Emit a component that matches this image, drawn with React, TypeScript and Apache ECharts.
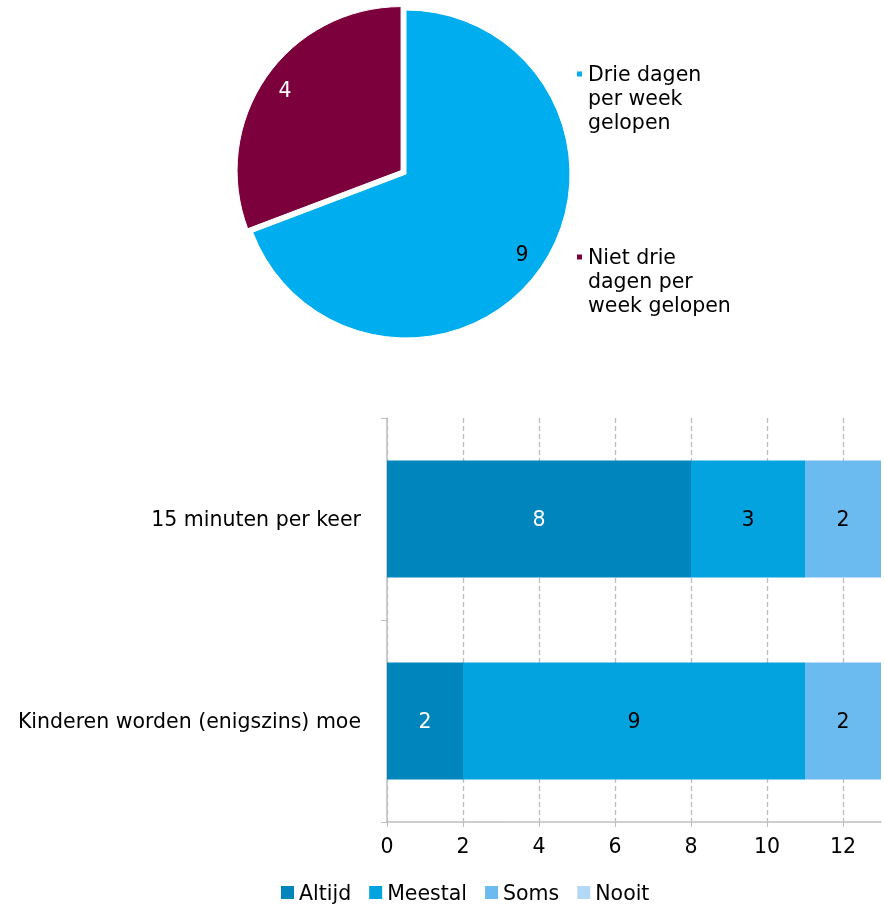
import React, { useEffect, useRef } from "react";
import * as echarts from "echarts";

const pieNames = ["Drie dagen per week gelopen", "Niet drie dagen per week gelopen"];
const pieValues = [9, 4];
const pieLegendText = ["Drie dagen\nper week\ngelopen", "Niet drie\ndagen per\nweek gelopen"];

const barCategories = ["15 minuten per keer", "Kinderen worden (enigszins) moe"];
const seriesNames = ["Altijd", "Meestal", "Soms", "Nooit"];
const altijd = [8, 2];
const meestal = [3, 9];
const soms = [2, 2];
const nooit = [0, 0];

const FONT = "DejaVu Sans";
const FS = 20.5;

export default function App() {
  const ref = useRef<HTMLDivElement>(null);
  useEffect(() => {
    const chart = echarts.init(ref.current!, null, { renderer: "svg" });
    const pieColors = ["#00AEEF", "#7B003C"];
    const barColors = ["#0086BC", "#03A3E0", "#6CBBF0", "#B3D9F5"];
    const labelColors = ["#ffffff", "#000000", "#000000", "#000000"];
    const barData = [altijd, meestal, soms, nooit];
    const lh = 24;
    const pieData = pieNames.map((n, i) => ({
      name: n,
      value: pieValues[i],
      selected: i === 1,
      itemStyle: { color: pieColors[i] },
    }));
    chart.setOption({
      animation: false,
      textStyle: { fontFamily: FONT },
      legend: [
        {
          data: pieNames,
          orient: "vertical",
          left: 570,
          top: 9,
          itemWidth: 7,
          itemHeight: 7,
          itemGap: 63,
          icon: "rect",
          formatter: (name: string) => "\n\n" + pieLegendText[pieNames.indexOf(name)],
          textStyle: {
            fontFamily: FONT,
            fontSize: FS,
            color: "#000",
            lineHeight: lh,
          },
        },
        {
          data: seriesNames,
          bottom: 2,
          left: 276,
          itemWidth: 13,
          itemHeight: 13,
          itemGap: 18,
          icon: "rect",
          textStyle: { fontFamily: FONT, fontSize: FS, color: "#000" },
        },
      ],
      grid: { left: 387, right: 3, top: 418, bottom: 88 },
      xAxis: {
        type: "value",
        min: 0,
        max: 13,
        interval: 2,
        axisLine: { show: true, lineStyle: { color: "#BFBFBF", width: 1.5 } },
        axisTick: { show: true, length: 5, lineStyle: { color: "#BFBFBF" } },
        axisLabel: {
          fontFamily: FONT,
          fontSize: FS,
          color: "#000",
          margin: 13,
          showMaxLabel: false,
        },
        splitLine: {
          show: true,
          showMaxLine: false,
          lineStyle: { color: "#BDBDBD", width: 1.3, type: [5, 3] },
        },
      },
      yAxis: {
        type: "category",
        data: barCategories,
        inverse: true,
        axisLine: { show: true, lineStyle: { color: "#BFBFBF", width: 1.5 } },
        axisTick: { show: true, length: 6, lineStyle: { color: "#BFBFBF" } },
        axisLabel: { fontFamily: FONT, fontSize: FS, color: "#000", margin: 26 },
      },
      series: [
        {
          type: "pie",
          center: [406, 174],
          radius: 164,
          startAngle: 90,
          clockwise: true,
          selectedMode: "single",
          selectedOffset: 6,
          label: { show: false },
          labelLine: { show: false },
          itemStyle: { borderColor: "#fff", borderWidth: 1 },
          emphasis: { disabled: true },
          data: pieData,
        },
        {
          type: "pie",
          center: [406, 174],
          radius: [112, 164],
          startAngle: 90,
          clockwise: true,
          selectedMode: "single",
          selectedOffset: 6,
          silent: true,
          legendHoverLink: false,
          itemStyle: { color: "rgba(0,0,0,0)" },
          label: {
            show: true,
            position: "inside",
            fontFamily: FONT,
            fontSize: FS,
            formatter: (p: any) => String(p.value),
          },
          labelLine: { show: false },
          emphasis: { disabled: true },
          data: pieNames.map((n, i) => ({
            name: n + " ",
            value: pieValues[i],
            selected: i === 1,
            label: { color: i === 0 ? "#000" : "#fff" },
          })),
        },
        ...seriesNames.map((name, si) => ({
          type: "bar",
          name,
          stack: "total",
          barWidth: "58%",
          itemStyle: { color: barColors[si] },
          emphasis: { disabled: true },
          label: {
            show: true,
            position: "inside",
            fontFamily: FONT,
            fontSize: FS,
            color: labelColors[si],
            formatter: (p: any) => (p.value > 0 ? String(p.value) : ""),
          },
          data: barData[si],
        })),
      ],
    });
    return () => chart.dispose();
  }, []);
  return (
    <div
      ref={ref}
      style={{ position: "fixed", left: 0, top: 0, width: 884, height: 910 }}
    />
  );
}
